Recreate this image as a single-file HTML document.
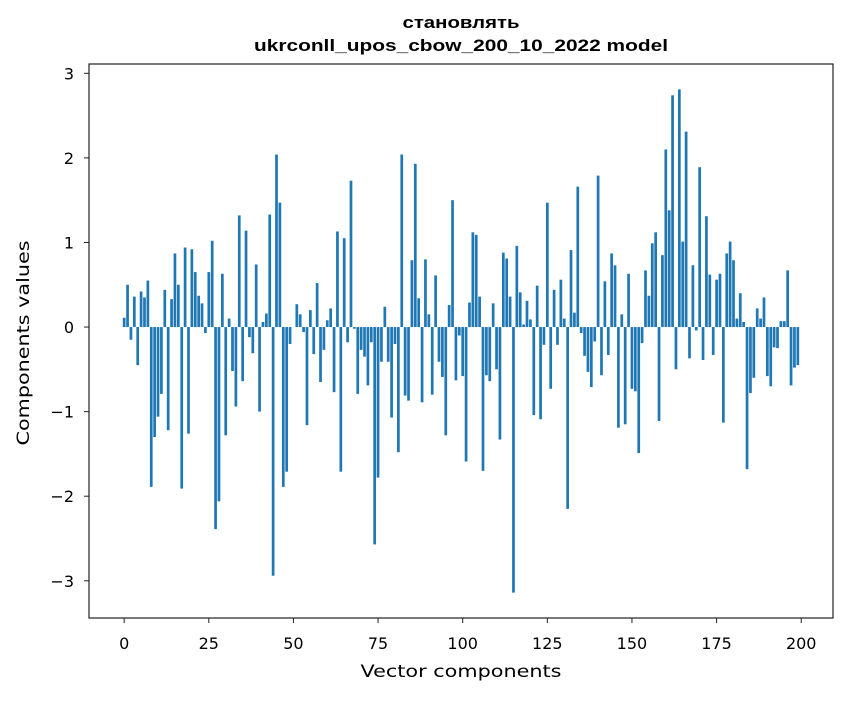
<!DOCTYPE html>
<html><head><meta charset="utf-8"><style>
body{margin:0;background:#fff;}
svg text{font-family:"DejaVu Sans","Liberation Sans",sans-serif;fill:#000;}
svg text.ttl{font-family:"Liberation Sans","DejaVu Sans",sans-serif;}
</style></head><body>
<svg id="chart" width="847" height="696" xmlns="http://www.w3.org/2000/svg">
<text class="ttl" x="461" y="28" text-anchor="middle" font-size="17" font-weight="bold" textLength="117" lengthAdjust="spacingAndGlyphs">становлять</text>
<text class="ttl" x="461" y="51" text-anchor="middle" font-size="17" font-weight="bold" textLength="414" lengthAdjust="spacingAndGlyphs">ukrconll_upos_cbow_200_10_2022 model</text>
<g id="bars"></g>
<g id="xticks"></g>
<g id="yticks"></g>
<rect x="89" y="64" width="744" height="554" fill="none" stroke="#222" stroke-width="1.2"/>
<text x="461" y="677" text-anchor="middle" font-size="17" textLength="201" lengthAdjust="spacingAndGlyphs">Vector components</text>
<text transform="translate(29,343) rotate(-90)" text-anchor="middle" font-size="17" textLength="205" lengthAdjust="spacingAndGlyphs">Components values</text>
</svg>
<script>
const values = [0.11,0.50,-0.15,0.36,-0.45,0.42,0.35,0.55,-1.89,-1.30,
-1.06,-0.79,0.44,-1.22,0.33,0.87,0.50,-1.91,0.94,-1.26,
0.92,0.65,0.37,0.28,-0.07,0.65,1.02,-2.39,-2.06,0.63,
-1.28,0.10,-0.52,-0.94,1.32,-0.64,1.14,-0.12,-0.31,0.74,
-1.00,0.06,0.16,1.33,-2.94,2.04,1.47,-1.89,-1.71,-0.20,
0.0,0.27,0.15,-0.06,-1.16,0.20,-0.32,0.52,-0.65,-0.27,
0.08,0.22,-0.77,1.13,-1.71,1.05,-0.18,1.73,-0.02,-0.79,
-0.27,-0.35,-0.69,-0.18,-2.57,-1.78,-0.41,0.24,-0.41,-1.07,
-0.20,-1.48,2.04,-0.81,-0.87,0.79,1.93,0.34,-0.89,0.80,
0.15,-0.80,0.61,-0.41,-0.59,-1.28,0.26,1.50,-0.63,-0.10,
-0.58,-1.59,0.29,1.12,1.09,0.36,-1.70,-0.57,-0.64,0.28,
-0.50,-1.33,0.88,0.81,0.36,-3.14,0.96,0.41,0.03,0.31,
0.09,-1.04,0.49,-1.09,-0.21,1.47,-0.73,0.44,-0.21,0.56,
0.10,-2.15,0.91,0.17,1.66,-0.07,-0.34,-0.53,-0.71,-0.17,
1.79,-0.57,0.54,-0.33,0.87,0.73,-1.19,0.15,-1.15,0.63,
-0.73,-0.76,-1.49,-0.19,0.67,0.37,0.99,1.12,-1.11,0.85,
2.10,1.38,2.74,-0.50,2.81,1.01,2.31,-0.37,0.73,-0.04,
1.89,-0.39,1.31,0.62,-0.33,0.56,0.63,-1.13,0.87,1.01,
0.79,0.10,0.40,0.06,-1.68,-0.78,-0.60,0.22,0.10,0.35,
-0.58,-0.70,-0.24,-0.25,0.07,0.07,0.67,-0.69,-0.48,-0.45];
const xTickValues = [0,25,50,75,100,125,150,175,200];
const yTickValues = [-3,-2,-1,0,1,2,3];

const NS="http://www.w3.org/2000/svg";
const L=89,R=833,T=64,B=618;
const xmin=-10.39,xmax=209.39,ymin=-3.44,ymax=3.11;
function xs(v){return L+(v-xmin)/(xmax-xmin)*(R-L);}
function ys(v){return B-(v-ymin)/(ymax-ymin)*(B-T);}
const bars=document.getElementById('bars');
values.forEach((v,i)=>{
  const r=document.createElementNS(NS,'rect');
  const x0=xs(i-0.4),x1=xs(i+0.4);
  const y0=ys(Math.max(v,0)),y1=ys(Math.min(v,0));
  r.setAttribute('x',x0);r.setAttribute('width',x1-x0);
  r.setAttribute('y',y0);r.setAttribute('height',Math.max(y1-y0,0));
  r.setAttribute('fill','#1f77b4');
  
  
  bars.appendChild(r);
});
const xg=document.getElementById('xticks');
xTickValues.forEach(t=>{
  const x=xs(t);
  const l=document.createElementNS(NS,'line');
  l.setAttribute('x1',x);l.setAttribute('x2',x);l.setAttribute('y1',B);l.setAttribute('y2',B+5);
  l.setAttribute('stroke','#222');
  
  
  xg.appendChild(l);
  const tx=document.createElementNS(NS,'text');
  tx.setAttribute('x',x);tx.setAttribute('y',B+31);tx.setAttribute('text-anchor','middle');tx.setAttribute('font-size','16');
  tx.textContent=t;
  
  
  xg.appendChild(tx);
});
const yg=document.getElementById('yticks');
yTickValues.forEach(t=>{
  const y=ys(t);
  const l=document.createElementNS(NS,'line');
  l.setAttribute('x1',L-5);l.setAttribute('x2',L);l.setAttribute('y1',y);l.setAttribute('y2',y);
  l.setAttribute('stroke','#222');
  
  
  yg.appendChild(l);
  const tx=document.createElementNS(NS,'text');
  tx.setAttribute('x',L-15);tx.setAttribute('y',y+6);tx.setAttribute('text-anchor','end');tx.setAttribute('font-size','16');
  tx.textContent=t<0?'\u2212'+Math.abs(t):String(t);
  
  
  yg.appendChild(tx);
});
</script>
</body></html>
